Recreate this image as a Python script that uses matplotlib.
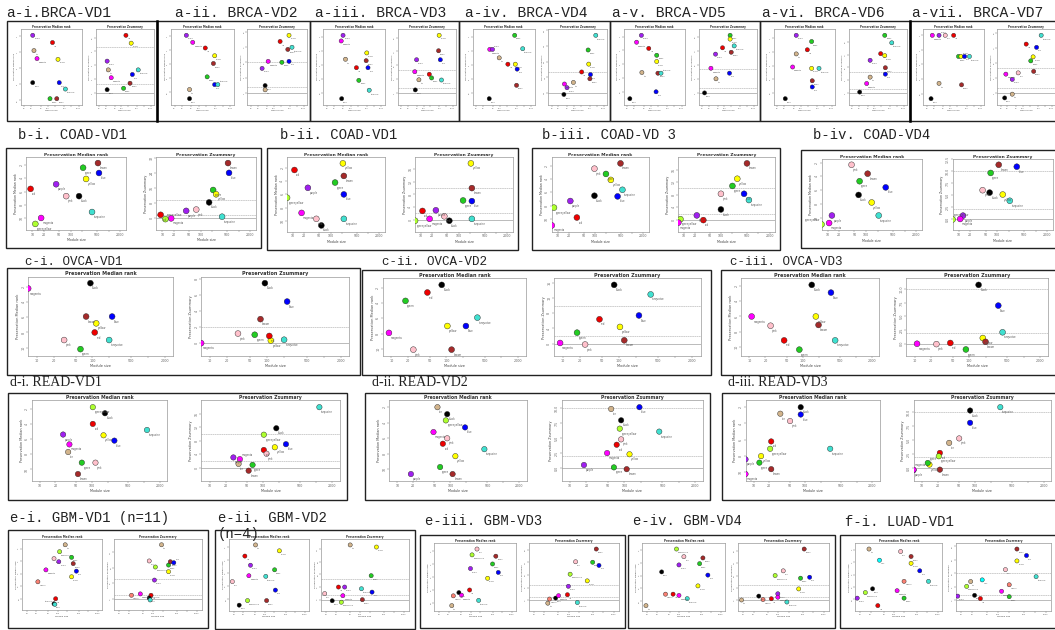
import matplotlib
matplotlib.use('Agg')
import matplotlib.pyplot as plt
from matplotlib.patches import Rectangle
from matplotlib.ticker import FixedLocator, NullLocator, MaxNLocator

W, H = 1055, 630

# ---- datos (module size, median rank, Zsummary) ----
a1_mods = ['purple', 'red', 'tan', 'magenta', 'yellow', 'black', 'blue', 'turquoise', 'green', 'brown']
a1_size = [23, 158, 26, 35, 270, 23, 305, 555, 124, 240]
a1_rank = [1.9, 2.8, 3.8, 4.8, 4.9, 7.8, 7.8, 8.6, 9.8, 9.8]
a1_zsum = [6.9, 12.5, 5.0, 3.3, 10.8, 0.7, 4.0, 5.0, 1.0, 2.1]

a2_mods = ['purple', 'magenta', 'red', 'yellow', 'brown', 'green', 'blue', 'turquoise', 'black', 'tan']
a2_size = [31, 57, 189, 463, 411, 226, 463, 625, 42, 42]
a2_rank = [1.9, 2.9, 3.7, 4.8, 5.9, 7.8, 8.9, 8.9, 10.9, 9.6]
a2_zsum = [8.0, 10.3, 16.8, 18.8, 14.2, 10.0, 10.3, 14.9, 2.4, 1.0]

a3_mods = ['purple', 'magenta', 'yellow', 'tan', 'brown', 'red', 'blue', 'green', 'turquoise', 'black']
a3_size = [48, 40, 492, 61, 463, 178, 555, 226, 625, 42]
a3_rank = [1.8, 2.6, 4.3, 5.2, 5.4, 6.4, 6.4, 8.2, 9.6, 10.8]
a3_zsum = [14.4, 9.2, 25.0, 5.7, 18.3, 8.1, 14.4, 6.5, 5.6, 1.3]

a4_mods = ['green', 'turquoise', 'magenta', 'purple', 'tan', 'red', 'yellow', 'blue', 'brown', 'black']
a4_size = [411, 895, 37, 48, 92, 213, 437, 522, 492, 35]
a4_rank = [1.8, 3.7, 3.8, 3.8, 5.0, 5.9, 5.9, 6.6, 8.9, 10.8]
a4_zsum = [4.1, 5.5, 0.85, 0.5, 1.0, 2.0, 2.75, 1.75, 1.35, -0.15]

a5_mods = ['purple', 'magenta', 'red', 'green', 'yellow', 'tan', 'brown', 'turquoise', 'blue', 'black']
a5_size = [40, 25, 82, 178, 178, 42, 200, 270, 167, 13]
a5_rank = [1.8, 2.8, 3.7, 4.7, 5.6, 7.2, 7.3, 7.3, 10.0, 11.0]
a5_zsum = [16.5, 10.5, 19.2, 24.5, 22.9, 6.0, 17.3, 20.0, 8.4, 0.0]

a6_mods = ['purple', 'green', 'red', 'tan', 'magenta', 'yellow', 'turquoise', 'brown', 'blue', 'black']
a6_size = [64, 287, 189, 64, 45, 287, 589, 305, 305, 22]
a6_rank = [1.6, 2.5, 3.7, 4.3, 6.2, 6.4, 6.4, 8.2, 9.1, 10.8]
a6_zsum = [15.3, 27.0, 18.4, 7.4, 4.4, 17.5, 23.5, 11.8, 8.8, 0.4]

a7_mods = ['magenta', 'purple', 'pink', 'red', 'green', 'yellow', 'blue', 'turquoise', 'tan', 'brown', 'black']
a7_size = [17, 33, 61, 140, 226, 287, 411, 664, 33, 305, 15]
a7_rank = [2.0, 2.0, 2.0, 2.0, 4.9, 4.9, 4.9, 4.9, 8.6, 8.8, 10.7]
a7_zsum = [7.5, 5.4, 8.0, 19.5, 12.8, 14.4, 18.2, 23.0, -0.5, 8.6, -2.0]

b1_mods = ['brown', 'green', 'blue', 'yellow', 'purple', 'red', 'pink', 'black', 'turquoise', 'magenta', 'greenyellow']
b1_size = [522, 213, 555, 255, 42, 9, 77, 167, 365, 17, 12]
b1_rank = [1.7, 2.4, 3.2, 4.1, 4.9, 5.6, 6.7, 6.7, 9.1, 10.0, 10.9]
b1_zsum = [29.4, 15.1, 24.2, 12.8, 4.0, 1.9, 4.7, 8.5, 0.9, 0.0, -0.4]

b2_mods = ['yellow', 'red', 'brown', 'green', 'purple', 'blue', 'greenyellow', 'magenta', 'pink', 'turquoise', 'black']
b2_size = [213, 11, 226, 132, 25, 226, 7, 17, 42, 226, 57]
b2_rank = [1.3, 2.3, 3.2, 4.2, 5.0, 6.0, 6.5, 8.8, 9.7, 9.7, 10.7]
b2_zsum = [17.8, 2.8, 10.0, 6.1, 3.0, 5.9, -0.3, 0.3, 1.1, 0.3, -0.3]

b3_mods = ['brown', 'pink', 'green', 'yellow', 'turquoise', 'black', 'blue', 'purple', 'greenyellow', 'red', 'magenta']
b3_size = [492, 98, 200, 270, 555, 98, 411, 22, 8, 33, 7]
b3_rank = [1.6, 2.4, 3.2, 4.1, 5.6, 6.5, 6.6, 7.3, 8.3, 9.8, 11.0]
b3_zsum = [18.0, 8.3, 10.8, 13.1, 6.3, 3.3, 8.3, 1.4, 0.2, -0.1, -0.9]

b4_mods = ['pink', 'brown', 'green', 'blue', 'black', 'yellow', 'turquoise', 'purple', 'magenta', 'greenyellow']
b4_size = [42, 110, 68, 324, 64, 140, 213, 13, 11, 7]
b4_rank = [2.3, 3.6, 4.7, 5.6, 6.7, 7.8, 9.7, 9.7, 10.8, 11.0]
b4_zsum = [6.0, 11.3, 9.6, 10.9, 5.5, 5.1, 3.8, 0.7, 0.0, -0.1]

c1_mods = ['black', 'magenta', 'brown', 'blue', 'yellow', 'red', 'pink', 'turquoise', 'green']
c1_size = [92, 7, 77, 226, 117, 110, 31, 200, 61]
c1_rank = [1.5, 2.2, 5.9, 5.9, 6.8, 8.0, 9.0, 9.0, 10.2]
c1_zsum = [7.5, 0.0, 3.0, 5.2, 0.33, 0.9, 1.2, 0.43, 1.05]

c2_mods = ['black', 'red', 'green', 'turquoise', 'yellow', 'blue', 'magenta', 'pink', 'brown']
c2_size = [82, 45, 18, 365, 104, 226, 9, 25, 124]
c2_rank = [1.6, 2.6, 3.7, 5.9, 7.0, 7.0, 7.9, 10.1, 10.1]
c2_zsum = [15.4, 6.4, 2.9, 12.9, 4.4, 7.4, 0.2, -0.2, 0.9]

c3_mods = ['black', 'blue', 'magenta', 'yellow', 'pink', 'brown', 'red', 'turquoise', 'green']
c3_size = [149, 343, 11, 178, 25, 200, 45, 411, 87]
c3_rank = [1.9, 2.9, 6.0, 6.0, 7.2, 7.1, 9.1, 9.1, 10.3]
c3_zsum = [10.8, 7.0, 0.0, 1.05, -0.07, 0.35, 0.14, 2.1, -1.05]

d1_mods = ['greenyellow', 'black', 'red', 'turquoise', 'purple', 'yellow', 'blue', 'magenta', 'tan', 'green', 'pink', 'brown']
d1_size = [104, 178, 104, 1140, 28, 167, 270, 37, 35, 64, 117, 54]
d1_rank = [1.8, 2.6, 4.0, 4.8, 5.4, 5.5, 6.2, 6.7, 7.7, 9.1, 9.1, 10.6]
d1_zsum = [9.8, 11.7, 5.3, 17.9, 3.1, 6.1, 7.0, 2.6, 1.2, 0.9, 4.2, -0.8]

d2_mods = ['tan', 'black', 'greenyellow', 'blue', 'magenta', 'pink', 'red', 'turquoise', 'yellow', 'green', 'purple', 'brown']
d2_size = [57, 87, 82, 189, 48, 87, 72, 437, 124, 64, 18, 110]
d2_rank = [2.0, 2.9, 3.7, 4.6, 5.2, 6.0, 6.7, 7.4, 8.3, 9.7, 10.6, 10.6]
d2_zsum = [9.9, 8.0, 6.6, 10.2, 2.5, 4.8, 3.9, 6.1, 2.3, 0.1, 0.5, -0.2]

d3_mods = ['black', 'tan', 'blue', 'pink', 'red', 'turquoise', 'greenyellow', 'purple', 'yellow', 'green', 'brown', 'magenta']
d3_size = [82, 33, 82, 51, 22, 305, 21, 7, 14, 13, 22, 7]
d3_rank = [2.0, 2.8, 2.9, 3.7, 6.2, 7.1, 7.1, 8.4, 8.0, 8.8, 9.6, 10.2]
d3_zsum = [10.3, 4.5, 8.1, 5.3, 2.7, 10.9, 2.1, -0.4, 0.6, 0.9, -0.3, -0.3]

e1_mods = ['tan', 'greenyellow', 'green', 'pink', 'purple', 'brown', 'blue', 'yellow', 'magenta', 'salmon', 'red', 'black', 'turquoise']
e1_size = [178, 117, 287, 77, 110, 324, 411, 287, 42, 23, 87, 77, 82]
e1_rank = [1.4, 2.5, 3.4, 3.6, 4.1, 4.4, 5.6, 6.5, 5.4, 7.3, 10.0, 10.8, 10.9]
e1_zsum = [27.8, 16.4, 17.4, 19.5, 9.7, 19.1, 18.6, 14.0, 2.6, 1.9, 1.9, 0.5, -0.5]

e2_mods = ['tan', 'yellow', 'red', 'purple', 'green', 'magenta', 'turquoise', 'pink', 'blue', 'greenyellow', 'brown', 'black']
e2_size = [51, 305, 23, 35, 213, 31, 110, 9, 226, 28, 117, 15]
e2_rank = [1.7, 2.6, 3.4, 4.8, 5.5, 6.4, 6.5, 7.3, 8.6, 10.2, 10.2, 10.9]
e2_zsum = [26.0, 25.0, 6.0, 6.0, 11.4, 1.9, 5.2, 2.9, 3.6, -1.2, 0.0, -0.5]

e3_mods = ['pink', 'greenyellow', 'brown', 'green', 'purple', 'blue', 'yellow', 'red', 'black', 'magenta', 'salmon', 'turquoise', 'tan']
e3_size = [158, 110, 625, 492, 98, 748, 343, 92, 42, 51, 28, 178, 25]
e3_rank = [1.7, 2.6, 2.8, 4.0, 4.7, 5.3, 6.2, 8.0, 8.4, 8.8, 8.9, 9.6, 10.4]
e3_zsum = [24.3, 16.5, 32.3, 24.0, 8.9, 22.0, 12.3, 3.6, 1.5, 3.0, 0.9, -1.3, -1.7]

e4_mods = ['greenyellow', 'pink', 'brown', 'green', 'purple', 'black', 'blue', 'yellow', 'salmon', 'red', 'magenta', 'turquoise', 'tan']
e4_size = [82, 140, 555, 437, 98, 28, 794, 387, 37, 64, 98, 178, 9]
e4_rank = [1.8, 3.0, 3.2, 4.1, 4.3, 5.4, 5.9, 7.6, 8.9, 8.9, 9.1, 9.6, 10.7]
e4_zsum = [16.0, 19.0, 33.0, 14.3, 4.3, 2.8, 14.9, 7.4, 0.6, 1.1, 2.1, -1.0, 0.3]

f1_mods = ['tan', 'pink', 'brown', 'cyan', 'yellow', 'blue', 'salmon', 'turquoise', 'black', 'magenta', 'greenyellow', 'purple', 'green', 'red']
f1_size = [18, 158, 324, 37, 324, 589, 200, 1072, 23, 124, 14, 8, 200, 33]
f1_rank = [1.9, 2.3, 3.1, 3.7, 4.2, 5.4, 7.1, 7.1, 8.3, 8.6, 8.9, 9.8, 9.8, 11.0]
f1_zsum = [7.0, 11.4, 19.0, 7.6, 14.6, 16.6, 5.8, 8.8, 1.9, 3.4, 5.2, 1.6, 1.4, 0.7]

# colores de modulo (nombres de R)
COLS = {'black': '#000000', 'blue': '#0000ff', 'brown': '#a52a2a', 'green': '#22cc22',
        'greenyellow': '#adff2f', 'magenta': '#ff00ff', 'pink': '#ffc0cb', 'purple': '#a020f0',
        'red': '#ee0000', 'tan': '#d2b48c', 'turquoise': '#40e0d0', 'yellow': '#ffff00',
        'salmon': '#fa8072', 'cyan': '#00ffff'}

# estilos por fila
ROWS = {
    'a': dict(lx=(0.09, 0.50), rx=(0.59, 0.98), fy=(0.08, 0.84), sub=1.9, tick=1.4, lab=1.5, pt=1.3, ms=3.0,
              tfs=10.5, tfam='Liberation Mono'),
    'b': dict(lx=(0.08, 0.47), rx=(0.59, 0.98), fy=(0.09, 0.82), sub=3.2, tick=2.3, lab=2.3, pt=1.8, ms=4.2,
              tfs=10, tfam='Liberation Mono'),
    'c': dict(lx=(0.06, 0.47), rx=(0.55, 0.97), fy=(0.08, 0.82), sub=3.5, tick=2.4, lab=2.5, pt=1.9, ms=4.2,
              tfs=9, tfam='Liberation Mono'),
    'd': dict(lx=(0.07, 0.47), rx=(0.57, 0.98), fy=(0.07, 0.82), sub=3.3, tick=2.3, lab=2.4, pt=1.8, ms=3.9,
              tfs=10, tfam='Liberation Serif'),
    'e': dict(lx=(0.07, 0.47), rx=(0.53, 0.97), fy=(0.09, 0.82), sub=2.0, tick=1.5, lab=1.6, pt=1.3, ms=3.0,
              tfs=10, tfam='Liberation Mono'),
}

# (fila, caja l,t,r,b en px, titulo, posicion titulo, datos)
PANELS = [
    ('a', (7, 21, 157, 121), 'a-i.BRCA-VD1', (6, 13), a1_mods, a1_size, a1_rank, a1_zsum),
    ('a', (157, 21, 310, 121), 'a-ii. BRCA-VD2', (175, 13), a2_mods, a2_size, a2_rank, a2_zsum),
    ('a', (310, 21, 459, 121), 'a-iii. BRCA-VD3', (315, 13), a3_mods, a3_size, a3_rank, a3_zsum),
    ('a', (459, 21, 610, 121), 'a-iv. BRCA-VD4', (465, 13), a4_mods, a4_size, a4_rank, a4_zsum),
    ('a', (610, 21, 760, 121), 'a-v. BRCA-VD5', (612, 13), a5_mods, a5_size, a5_rank, a5_zsum),
    ('a', (760, 21, 910, 121), 'a-vi. BRCA-VD6', (762, 13), a6_mods, a6_size, a6_rank, a6_zsum),
    ('a', (910, 21, 1058, 121), 'a-vii. BRCA-VD7', (912, 13), a7_mods, a7_size, a7_rank, a7_zsum),
    ('b', (6, 148, 261, 248), 'b-i. COAD-VD1', (18, 135), b1_mods, b1_size, b1_rank, b1_zsum),
    ('b', (267, 148, 518, 250), 'b-ii. COAD-VD1', (280, 135), b2_mods, b2_size, b2_rank, b2_zsum),
    ('b', (532, 148, 780, 250), 'b-iii. COAD-VD 3', (542, 135), b3_mods, b3_size, b3_rank, b3_zsum),
    ('b', (801, 150, 1058, 248), 'b-iv. COAD-VD4', (813, 135), b4_mods, b4_size, b4_rank, b4_zsum),
    ('c', (7, 268, 360, 375), 'c-i. OVCA-VD1', (25, 262), c1_mods, c1_size, c1_rank, c1_zsum),
    ('c', (362, 270, 711, 375), 'c-ii. OVCA-VD2', (382, 262), c2_mods, c2_size, c2_rank, c2_zsum),
    ('c', (721, 270, 1058, 375), 'c-iii. OVCA-VD3', (730, 262), c3_mods, c3_size, c3_rank, c3_zsum),
    ('d', (8, 393, 347, 500), 'd-i. READ-VD1', (10, 383), d1_mods, d1_size, d1_rank, d1_zsum),
    ('d', (365, 393, 710, 500), 'd-ii. READ-VD2', (372, 383), d2_mods, d2_size, d2_rank, d2_zsum),
    ('d', (722, 393, 1058, 500), 'd-iii. READ-VD3', (728, 383), d3_mods, d3_size, d3_rank, d3_zsum),
    ('e', (8, 530, 208, 628), 'e-i. GBM-VD1 (n=11)', (10, 518), e1_mods, e1_size, e1_rank, e1_zsum),
    ('e', (215, 530, 415, 629), 'e-ii. GBM-VD2', (218, 518), e2_mods, e2_size, e2_rank, e2_zsum),
    ('e', (420, 535, 625, 628), 'e-iii. GBM-VD3', (425, 521), e3_mods, e3_size, e3_rank, e3_zsum),
    ('e', (628, 535, 835, 628), 'e-iv. GBM-VD4', (633, 521), e4_mods, e4_size, e4_rank, e4_zsum),
    ('e', (840, 535, 1058, 628), 'f-i. LUAD-VD1', (845, 522), f1_mods, f1_size, f1_rank, f1_zsum),
]

XTICKS = [10, 20, 50, 100, 200, 500, 1000, 2000]
XLABS = ['10', '20', '50', '100', '', '500', '', '2000']

# posiciones candidatas de la etiqueta (dx, dy en puntos, ha, va)
SPOTS = [(1.2, -2.2, 'left', 'top'), (1.2, 1.6, 'left', 'bottom'),
         (-1.2, 1.6, 'right', 'bottom'), (-1.2, -2.2, 'right', 'top')]

fig = plt.figure(figsize=(W / 100, H / 100), dpi=100)
fig.patch.set_facecolor('white')


def label_box(px, py, spot, name, fs):
    dx, dy, ha, va = spot
    k = 100 / 72
    w = len(name) * fs * 0.55 * k
    h = fs * 1.1 * k
    ax_ = px + dx * k
    ay_ = py + dy * k
    x0 = ax_ if ha == 'left' else ax_ - w
    y0 = ay_ - h if va == 'top' else ay_
    return (x0, y0, x0 + w, y0 + h)


def hits(b1, b2):
    return not (b1[2] < b2[0] or b2[2] < b1[0] or b1[3] < b2[1] or b2[3] < b1[1])


def plot_one(ax, mods, size, vals, st, title, ylab, zs):
    cols = [COLS[m] for m in mods]
    ax.scatter(size, vals, s=st['ms'] ** 2, c=cols, edgecolors='#222222', linewidths=0.3, zorder=3)
    vmin, vmax = min(vals), max(vals)
    if zs:
        vmin = min(vmin, -vmax / 10)
        r = vmax - vmin
        ax.set_ylim(vmin - 0.1 * r, vmax + 0.1 * r)
        ax.axhline(0, color='#888888', lw=0.4, zorder=1)
        ax.axhline(2, color='#aaaaaa', lw=0.4, ls=(0, (3, 1)), zorder=1)
        ax.axhline(10, color='#aaaaaa', lw=0.4, ls=(0, (3, 1)), zorder=1)
    else:
        r = vmax - vmin
        ax.set_ylim(vmax + 0.1 * r, vmin - 0.1 * r)
    ax.set_xscale('log')
    ax.set_xlim(7, 2800)

    # etiquetas de modulo: se busca un hueco libre alrededor del punto
    boxes = []
    for m, x, y in zip(mods, size, vals):
        px, py = ax.transData.transform((x, y))
        spot = SPOTS[0]
        for cand in SPOTS:
            bb = label_box(px, py, cand, m, st['pt'])
            if not any(hits(bb, o) for o in boxes):
                spot = cand
                break
        boxes.append(label_box(px, py, spot, m, st['pt']))
        ax.annotate(m, (x, y), xytext=spot[:2], textcoords='offset points', ha=spot[2], va=spot[3],
                    fontsize=st['pt'], color='#555555', zorder=4)

    ax.xaxis.set_major_locator(FixedLocator(XTICKS))
    ax.xaxis.set_minor_locator(NullLocator())
    ax.set_xticklabels(XLABS)
    ax.yaxis.set_major_locator(MaxNLocator(6))
    for lbl in ax.get_yticklabels():
        lbl.set_rotation(90)
        lbl.set_va('center')
    ax.tick_params(labelsize=st['tick'], length=1.2, width=0.3, pad=0.8, colors='#666666')
    for sp in ax.spines.values():
        sp.set_color('#999999')
        sp.set_linewidth(0.5)
    ax.set_title(title, fontsize=st['sub'], fontweight='bold', pad=0.8, color='#333333')
    ax.set_xlabel('Module size', fontsize=st['lab'], labelpad=1, color='#444444')
    ax.set_ylabel(ylab, fontsize=st['lab'], labelpad=1, color='#444444')


for row, box, title, tpos, mods, size, rank, zsum in PANELS:
    st = ROWS[row]
    l, t, r, b = box
    bw, bh = r - l, b - t
    fig.add_artist(Rectangle((l / W, 1 - b / H), bw / W, bh / H, transform=fig.transFigure,
                             fill=False, ec='#222222', lw=1.0))
    fig.text(tpos[0] / W, 1 - tpos[1] / H, title, fontsize=st['tfs'], family=st['tfam'],
             va='center', ha='left', color='#222222')
    y0, y1 = st['fy']
    for (x0, x1), vals, sub, zs in [(st['lx'], rank, 'Preservation Median rank', False),
                                   (st['rx'], zsum, 'Preservation Zsummary', True)]:
        ax = fig.add_axes([(l + x0 * bw) / W, 1 - (t + y1 * bh) / H, (x1 - x0) * bw / W, (y1 - y0) * bh / H])
        plot_one(ax, mods, size, vals, st, sub, sub, zs)

# bordes gruesos entre paneles de la fila a
for xp in [157, 910]:
    fig.add_artist(plt.Line2D([xp / W, xp / W], [1 - 121 / H, 1 - 21 / H], transform=fig.transFigure,
                              color='black', lw=1.8))

# etiqueta partida del panel e-ii
fig.text(218 / W, 1 - 534 / H, '(n=4)', fontsize=10, family='Liberation Mono', va='center', ha='left',
         color='#222222')

fig.savefig('out.png', dpi=100, facecolor='white')
